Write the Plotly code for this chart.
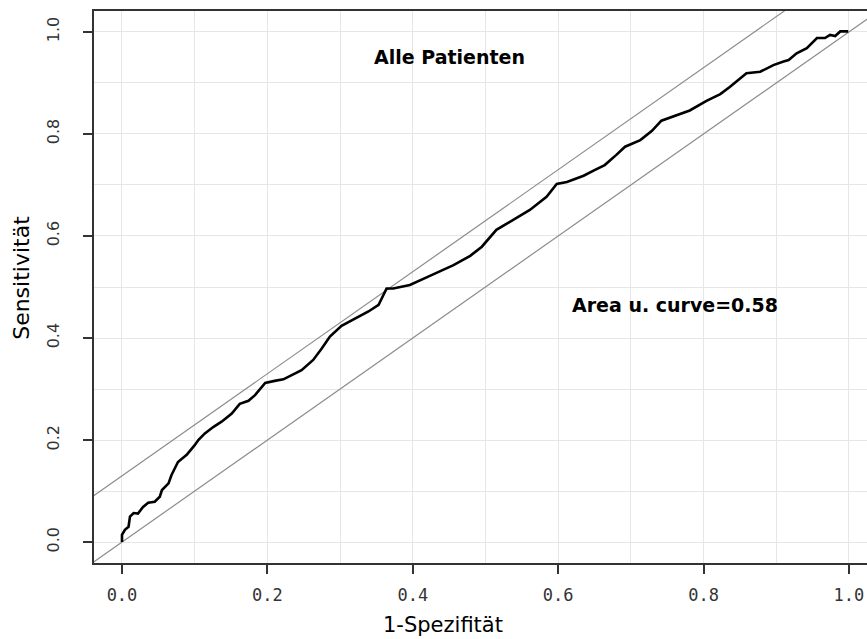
import plotly.graph_objects as go

# ROC curve
fpr = [0.0, 0.0, 0.004, 0.009, 0.011, 0.016, 0.022, 0.029, 0.036, 0.045, 0.052, 0.055,
       0.064, 0.068, 0.077, 0.089, 0.100, 0.105, 0.114, 0.126, 0.137, 0.151, 0.162,
       0.174, 0.183, 0.197, 0.210, 0.222, 0.247, 0.263, 0.275, 0.286, 0.302, 0.323,
       0.339, 0.353, 0.359, 0.364, 0.373, 0.396, 0.419, 0.437, 0.456, 0.479, 0.495,
       0.515, 0.538, 0.561, 0.584, 0.598, 0.612, 0.635, 0.650, 0.664, 0.680, 0.692,
       0.713, 0.729, 0.742, 0.763, 0.781, 0.804, 0.823, 0.836, 0.848, 0.859, 0.878,
       0.896, 0.910, 0.917, 0.928, 0.942, 0.956, 0.967, 0.974, 0.981, 0.988, 0.999]
tpr = [0.0, 0.014, 0.024, 0.030, 0.050, 0.057, 0.056, 0.069, 0.077, 0.079, 0.089, 0.102,
       0.115, 0.131, 0.157, 0.171, 0.190, 0.200, 0.213, 0.226, 0.236, 0.252, 0.271,
       0.277, 0.288, 0.312, 0.316, 0.319, 0.337, 0.357, 0.380, 0.403, 0.424, 0.439,
       0.452, 0.465, 0.481, 0.497, 0.497, 0.504, 0.519, 0.530, 0.543, 0.561, 0.579,
       0.612, 0.631, 0.651, 0.677, 0.702, 0.706, 0.718, 0.729, 0.739, 0.759, 0.775,
       0.788, 0.806, 0.826, 0.837, 0.846, 0.865, 0.878, 0.892, 0.906, 0.919, 0.922,
       0.935, 0.942, 0.945, 0.958, 0.968, 0.988, 0.988, 0.994, 0.992, 1.001, 1.001]

# reference lines (y = x + offset)
ref_x = [-0.05, 1.1]
ref_offsets = [0.0, 0.13]

x_ticks = [0.0, 0.2, 0.4, 0.6, 0.8, 1.0]
x_tick_labels = ["0.0", "0.2", "0.4", "0.6", "0.8", "1.0"]
y_ticks = [0.0, 0.2, 0.4, 0.6, 0.8, 1.0]
y_tick_labels = ["0.0", "0.2", "0.4", "0.6", "0.8", "1.0"]
minor_grid = [0.1, 0.3, 0.5, 0.7, 0.9]

title_text = "Alle Patienten"
auc_text = "Area u. curve=0.58"
x_title = "1-Spezifität"
y_title = "Sensitivität"

fig = go.Figure()
for off in ref_offsets:
    fig.add_trace(go.Scatter(x=ref_x, y=[v + off for v in ref_x], mode="lines",
                             line=dict(color="#8c8c8c", width=1.2), hoverinfo="skip",
                             showlegend=False))
fig.add_trace(go.Scatter(x=fpr, y=tpr, mode="lines",
                         line=dict(color="black", width=2.6), showlegend=False))

bold_font = dict(family="DejaVu Sans", size=19, color="black")
fig.add_annotation(x=0.45, y=0.95, text="<b>" + title_text + "</b>", showarrow=False,
                   font=bold_font)
fig.add_annotation(x=0.76, y=0.465, text="<b>" + auc_text + "</b>", showarrow=False,
                   font=bold_font)

# axis titles as annotations so they sit where the reference has them
fig.add_annotation(x=0.442, xref="x", y=0, yref="paper", yanchor="middle", yshift=-62,
                   text=x_title, showarrow=False,
                   font=dict(family="DejaVu Sans", size=21, color="black"))
fig.add_annotation(x=0, xref="paper", xanchor="center", xshift=-72, y=0.518, yref="y",
                   text=y_title, textangle=-90, showarrow=False,
                   font=dict(family="DejaVu Sans", size=22, color="black"))

axis_common = dict(showline=True, linecolor="#333333", linewidth=1.5,
                   ticks="outside", ticklen=9, tickcolor="#333333", tickwidth=1.5,
                   showgrid=True, gridcolor="#e6e6e6", gridwidth=1.2, zeroline=False,
                   automargin=False)

fig.update_xaxes(range=[-0.0385, 1.0248], tickvals=x_ticks, ticktext=x_tick_labels,
                 mirror=True,
                 tickfont=dict(family="DejaVu Sans Mono", size=17, color="#333333"),
                 ticklabelstandoff=7,
                 minor=dict(tickvals=minor_grid, showgrid=True, gridcolor="#e6e6e6", ticks=""),
                 **axis_common)
fig.update_yaxes(range=[-0.041, 1.041], tickvals=y_ticks, ticktext=y_tick_labels,
                 tickangle=-90,
                 tickfont=dict(family="DejaVu Sans", size=16, color="#333333"),
                 ticklabelstandoff=18,
                 minor=dict(tickvals=minor_grid, showgrid=True, gridcolor="#e6e6e6", ticks=""),
                 **axis_common)

fig.update_layout(width=867, height=639, margin=dict(l=94, r=0, t=11, b=76),
                  plot_bgcolor="white", paper_bgcolor="white", showlegend=False)

# remove the page's default body margin so the figure fills the window exactly
fig.write_html("out.html", config={"displayModeBar": False},
               post_script="document.body.style.margin='0px';")
